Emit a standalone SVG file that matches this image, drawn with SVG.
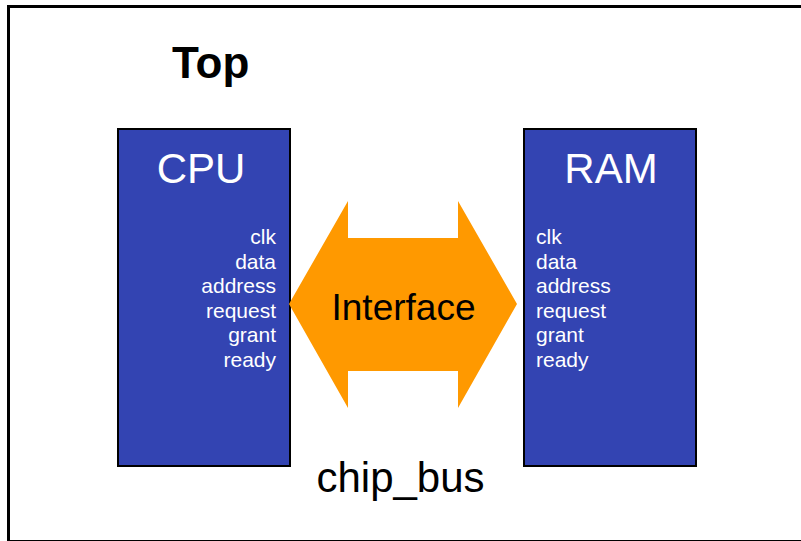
<svg xmlns="http://www.w3.org/2000/svg" width="801" height="541" viewBox="0 0 801 541">
<style>
.box{fill:#3344B2;stroke:#000;stroke-width:2}
.t{font-family:"Liberation Sans",Arial,sans-serif}
.port{font-family:"Liberation Sans",Arial,sans-serif;font-size:21px;fill:#fff}
</style>
<rect width="801" height="541" fill="#fff"/>
<rect id="frame" x="8.5" y="6.5" width="800" height="535" fill="none" stroke="#000" stroke-width="3"/>
<text class="t" x="172" y="78" font-size="44" font-weight="bold" fill="#000">Top</text>
<g id="cpu">
<rect class="box" x="118" y="129" width="172" height="337"/>
<text class="t" x="201" y="183" font-size="42" fill="#fff" text-anchor="middle">CPU</text>
<g class="port" text-anchor="end">
<text x="276" y="244">clk</text>
<text x="276" y="268.5">data</text>
<text x="276" y="293">address</text>
<text x="276" y="317.5">request</text>
<text x="276" y="342">grant</text>
<text x="276" y="366.5">ready</text>
</g>
</g>
<g id="ram">
<rect class="box" x="524" y="129" width="172" height="337"/>
<text class="t" x="611" y="183" font-size="42" fill="#fff" text-anchor="middle">RAM</text>
<g class="port">
<text x="536" y="244">clk</text>
<text x="536" y="268.5">data</text>
<text x="536" y="293">address</text>
<text x="536" y="317.5">request</text>
<text x="536" y="342">grant</text>
<text x="536" y="366.5">ready</text>
</g>
</g>
<g id="connectors">
<g id="interface">
<polygon points="289,304 348,201 348,238 458,238 458,201 517,304 458,408 458,371 348,371 348,408" fill="#FF9900"/>
<text class="t" x="403.5" y="320" font-size="37" fill="#000" text-anchor="middle">Interface</text>
</g>
</g>
<text class="t" x="400.5" y="492" font-size="42" fill="#000" text-anchor="middle">chip_bus</text>
</svg>
